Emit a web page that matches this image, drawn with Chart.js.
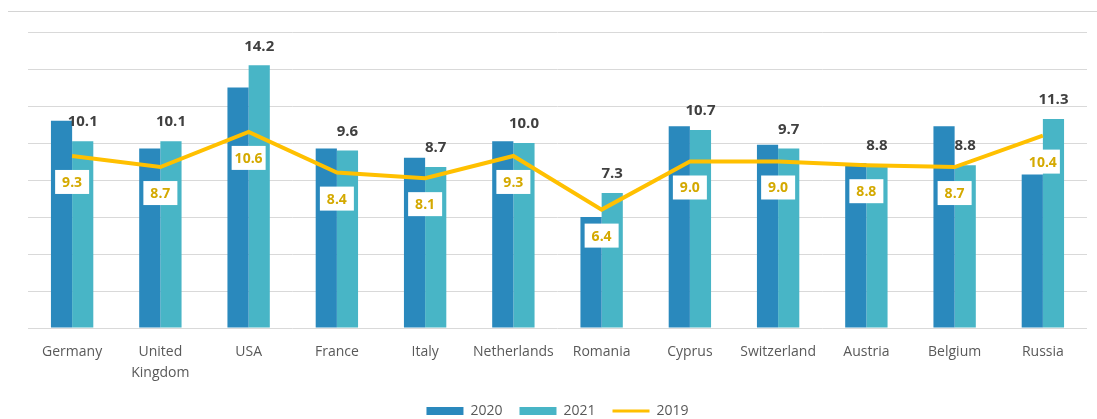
<!DOCTYPE html>
<html>
<head>
<meta charset="utf-8">
<script src="https://cdn.jsdelivr.net/npm/chart.js@4.4.1/dist/chart.umd.min.js"></script>
<style>
  html, body { margin: 0; padding: 0; background: #ffffff; }
  #wrap { position: relative; width: 1097px; height: 419px; }
  #topline { position: absolute; top: 11px; left: 8px; right: 0; border-top: 1px solid #d4d4d4; }
</style>
</head>
<body>
<div id="wrap">
  <div id="topline"></div>
  <canvas id="c" width="1097" height="419"></canvas>
</div>
<script>
const categories = ['Germany', ['United', 'Kingdom'], 'USA', 'France', 'Italy', 'Netherlands', 'Romania', 'Cyprus', 'Switzerland', 'Austria', 'Belgium', 'Russia'];
const values2020 = [11.2, 9.7, 13.0, 9.7, 9.2, 10.1, 6.0, 10.9, 9.9, 8.9, 10.9, 8.3];
const values2021 = [10.1, 10.1, 14.2, 9.6, 8.7, 10.0, 7.3, 10.7, 9.7, 8.8, 8.8, 11.3];
const values2019 = [9.3, 8.7, 10.6, 8.4, 8.1, 9.3, 6.4, 9.0, 9.0, 8.8, 8.7, 10.4];
const seriesNames = ['2020', '2021', '2019'];

const COLOR_2020 = '#2a89bd';
const COLOR_2021 = '#48b5c6';
const COLOR_2019 = '#ffc000';
const LABEL_2019 = '#d4a900';

const labelPlugin = {
  id: 'valueLabels',
  afterDatasetsDraw(chart) {
    const ctx = chart.ctx;
    ctx.save();
    ctx.textAlign = 'center';
    ctx.textBaseline = 'middle';
    const m1 = chart.getDatasetMeta(1);
    ctx.font = 'bold 15px "Open Sans", sans-serif';
    ctx.fillStyle = '#404040';
    m1.data.forEach((el, i) => {
      ctx.fillText(values2021[i].toFixed(1), el.x, el.y - 19);
    });
    const m2 = chart.getDatasetMeta(2);
    ctx.font = 'bold 14px "Open Sans", sans-serif';
    m2.data.forEach((el, i) => {
      const cx = el.x, cy = el.y + 26;
      ctx.fillStyle = '#ffffff';
      ctx.fillRect(cx - 17, cy - 12, 34, 24);
      ctx.fillStyle = LABEL_2019;
      ctx.fillText(values2019[i].toFixed(1), cx, cy + 1);
    });
    ctx.restore();
  }
};

const legendFitPlugin = {
  id: 'legendFit',
  beforeInit(chart) {
    const orig = chart.legend.fit;
    chart.legend.fit = function () {
      orig.call(this);
      this.height -= 9;
    };
  }
};

new Chart(document.getElementById('c'), {
  type: 'bar',
  data: {
    labels: categories,
    datasets: [
      { label: seriesNames[0], data: values2020, backgroundColor: COLOR_2020, barPercentage: 1, categoryPercentage: 0.48, order: 1 },
      { label: seriesNames[1], data: values2021, backgroundColor: COLOR_2021, barPercentage: 1, categoryPercentage: 0.48, order: 1 },
      { type: 'line', label: seriesNames[2], data: values2019, borderColor: COLOR_2019, backgroundColor: COLOR_2019,
        borderWidth: 4, pointRadius: 0, tension: 0, order: 0 }
    ]
  },
  options: {
    responsive: false,
    animation: false,
    layout: { padding: { top: 32, left: 28, right: 10, bottom: 0 } },
    scales: {
      y: {
        display: true,
        min: 0, max: 16,
        ticks: { display: false, stepSize: 2 },
        grid: { color: '#d9d9d9', lineWidth: 1, drawTicks: false },
        border: { display: false }
      },
      x: {
        ticks: { color: '#595959', font: { family: '"Open Sans", sans-serif', size: 14, lineHeight: 1.5 }, padding: 14, maxRotation: 0, autoSkip: false },
        grid: { display: false, drawTicks: false },
        border: { display: false },
        afterFit(scale) { scale.height -= 11; }
      }
    },
    plugins: {
      tooltip: { enabled: false },
      legend: {
        position: 'bottom',
        labels: {
          color: '#595959',
          font: { family: '"Open Sans", sans-serif', size: 14 },
          usePointStyle: true,
          pointStyleWidth: 37,
          boxHeight: 8,
          padding: 17,
          sort: (a, b) => a.datasetIndex - b.datasetIndex,
          generateLabels(chart) {
            const items = Chart.defaults.plugins.legend.labels.generateLabels(chart);
            items.forEach(it => {
              if (it.datasetIndex === 2) {
                it.pointStyle = 'line';
                it.strokeStyle = COLOR_2019;
                it.lineWidth = 3;
              } else {
                it.pointStyle = 'rect';
                it.lineWidth = 0;
                it.strokeStyle = it.fillStyle;
              }
            });
            return items;
          }
        }
      }
    }
  },
  plugins: [labelPlugin, legendFitPlugin]
});
</script>
</body>
</html>
